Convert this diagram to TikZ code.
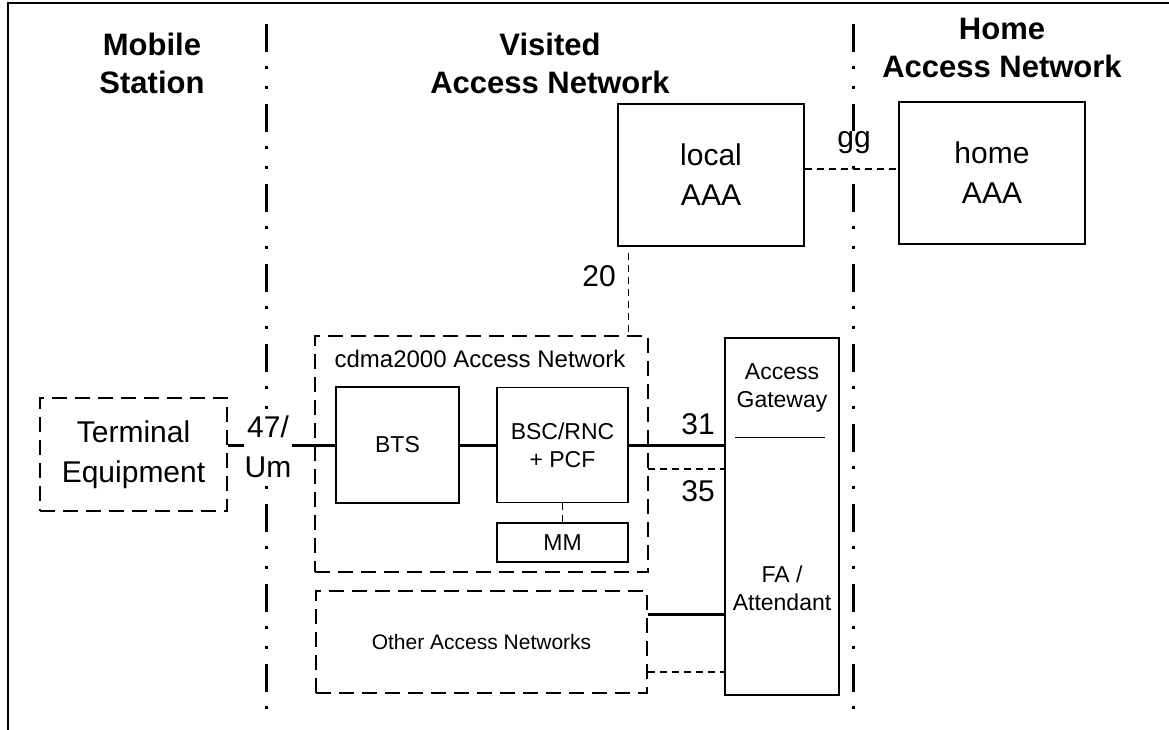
\documentclass[tikz,border=0pt]{standalone}
\usepackage{fontspec}
\setmainfont{Liberation Sans}
\usetikzlibrary{positioning, calc}

\begin{document}
\begin{tikzpicture}[
		x = 1pt, y = -1pt,
		heading/.style = {font = \fontsize{31}{38}\selectfont\bfseries, align = center},
		big/.style = {font = \fontsize{30}{40}\selectfont, align = center},
		small/.style = {font = \fontsize{23}{28}\selectfont, align = center},
		tiny/.style = {font = \fontsize{21}{25}\selectfont, align = center},
		unit/.style = {rectangle, draw, line width = 1.5pt, inner sep = 0pt, big},
		element/.style = {rectangle, draw, line width = 1.5pt, inner sep = 0pt, small},
		group/.style = {rectangle, draw, line width = 1.5pt, dash pattern = on 15pt off 8pt, inner sep = 0pt, tiny},
		link/.style = {line width = 1.5pt, dash pattern = on 7pt off 5pt},
		bearer/.style = {line width = 3pt},
		boundary/.style = {line width = 3pt, dash pattern = on 28pt off 14pt on 3pt off 17pt on 3pt off 15pt},
	]
	\useasboundingbox (0,0) rectangle (1169,730);
	\draw[line width = 2.5pt] (8,730) -- (8,3) -- (1169,3);

	% domains
	\node[heading] (msHead) at (152,63) {Mobile\\Station};
	\node[heading] (vanHead) at (550,63) {Visited\\Access Network};
	\node[heading] (hanHead) at (1002,48) {Home\\Access Network};
	\draw[boundary] (266,24) -- (266,712);
	\draw[boundary] (853,24) -- (853,712);

	% boxes
	\node[group, big, minimum width = 187, minimum height = 113] (term) at (133.5,454.5) {Terminal\\Equipment};
	\node[unit, minimum width = 186, minimum height = 142] (local) at (711,175) {local\\AAA};
	\node[unit, minimum width = 186, minimum height = 142] (home) at (992,173) {home\\AAA};
	\node[group, minimum width = 333, minimum height = 236] (cdma) at (481.5,454) {};
	\node[font = \fontsize{24}{28}\selectfont] (cdmaLabel) at (480,359) {cdma2000 Access Network};
	\node[element, minimum width = 123, minimum height = 116] (bts) at (397.5,445) {BTS};
	\node[element, minimum width = 131, minimum height = 115] (bsc) at (562.5,445) {BSC/RNC\\+ PCF};
	\node[element, minimum width = 131, minimum height = 39] (mm) at (562.5,542.5) {MM};
	\node[group, minimum width = 331, minimum height = 102] (other) at (481.5,642) {Other Access Networks};
	\node[element, minimum width = 114, minimum height = 357] (ag) at (782,516.5) {};
	\node[small] (agLabel) at (782,388) {Access\\Gateway};
	\node[small] (faLabel) at (782,588) {FA /\\Attendant};
	\draw[line width = 1pt] ([xshift = 11pt, yshift = -100pt]ag.north west) -- ([xshift = -15pt, yshift = -100pt]ag.north east);

	% interfaces
	\coordinate (c35) at (648,469);
	\draw[bearer] (bts.west -| term.east) -- (bts.west);
	\node[big, fill = white, inner sep = 1pt] (um) at (268,447) {47/\\Um};
	\draw[bearer] (bts) -- (bsc);
	\draw[bearer] (bsc.east) -- (bsc.east -| ag.west);
	\draw[link] (c35) -- (c35 -| ag.west);
	\draw[link] (bsc.south) -- (mm.north);
	\draw[link] ([xshift = 11pt, yshift = -6pt]local.south west) -- ([xshift = 11pt]local.south west |- cdma.north);
	\draw[link] ([yshift = 6pt]local.east) -- ([yshift = 6pt]local.east -| home.west);
	\draw[bearer] ([yshift = 28pt]other.east) -- ([yshift = 28pt]other.east -| ag.west);
	\draw[link] ([yshift = -30pt]other.east) -- ([yshift = -30pt]other.east -| ag.west);

	\node[big] (n31) at (698,424) {31};
	\node[big] (n35) at (698,491) {35};
	\node[big] (n20) at (599,276) {20};
	\node[big, fill = white, inner sep = 1pt] (ngg) at (854,143) {gg};

\end{tikzpicture}
\end{document}
